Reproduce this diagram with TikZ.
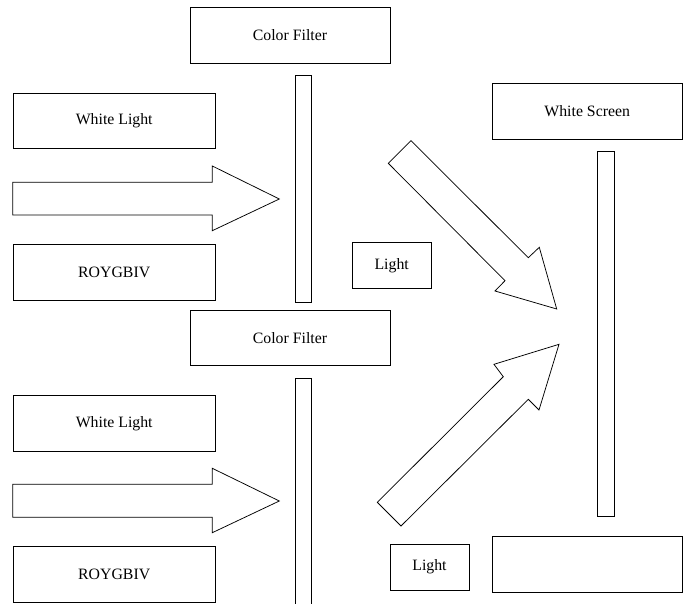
\documentclass[tikz,border=0pt]{standalone}
\usepackage{fontspec}
\setmainfont{Liberation Serif}
\begin{document}
\begin{tikzpicture}[x=1pt,y=-1pt,
  box/.style={draw=black, line width=0.75pt, fill=white, inner sep=0pt, font=\fontsize{15.8}{18}\selectfont},
  blockarrow/.style={draw=black, line width=0.75pt, fill=white, line join=miter}]
\useasboundingbox (0,0) rectangle (683,604);
\clip (0,0) rectangle (683,604);
% top half
\node[box, minimum width=200pt, minimum height=56pt] (cf1) at (290,35) {Color Filter};
\node[box, minimum width=16.4pt, minimum height=227pt] (bar1) at (303.5,189.2) {};
\node[box, minimum width=201.7pt, minimum height=55pt] (wl1) at (114.2,120.8) {White Light};
\node[box, minimum width=201.7pt, minimum height=56pt] (ry1) at (114.2,272) {ROYGBIV};
\node[box, minimum width=189.7pt, minimum height=55.7pt] (ws) at (587.2,111.2) {White Screen};
\node[box, minimum width=16.3pt, minimum height=365pt] (barr) at (605.9,333.5) {};
\node[box, minimum width=78.7pt, minimum height=46pt] (l1) at (391.7,265.3) {Light};
% bottom half
\node[box, minimum width=200pt, minimum height=55.7pt] (cf2) at (290,337.9) {Color Filter};
\node[box, minimum width=16.4pt, minimum height=240pt] (bar2) at (303.5,498.3) {};
\node[box, minimum width=201.7pt, minimum height=55.3pt] (wl2) at (114.2,423.3) {White Light};
\node[box, minimum width=201.7pt, minimum height=55.6pt] (ry2) at (114.2,574.5) {ROYGBIV};
\node[box, minimum width=79pt, minimum height=45.7pt] (l2) at (429.5,567.2) {Light};
\node[box, minimum width=189.7pt, minimum height=55.6pt] (emp) at (587.2,564.5) {};
% block arrows
\draw[blockarrow] (12.7,182.3) -- (212.3,182.3) -- (212.3,166) -- (279.3,199) -- (212.3,230.7) -- (212.3,215) -- (12.7,215) -- cycle;
\draw[blockarrow] (12.7,484.3) -- (212.3,484.3) -- (212.3,468.3) -- (279.3,501) -- (212.3,532.7) -- (212.3,517.3) -- (12.7,517.3) -- cycle;
\draw[blockarrow] (411,140.7) -- (528.3,257.7) -- (539.3,247.3) -- (556.7,309) -- (495,291) -- (505,280.7) -- (388.3,163.3) -- cycle;
\draw[blockarrow] (377.3,502.3) -- (503.3,376.7) -- (494,364.3) -- (559,344.3) -- (539,410) -- (528.3,399.3) -- (401,526) -- cycle;
\end{tikzpicture}
\end{document}
